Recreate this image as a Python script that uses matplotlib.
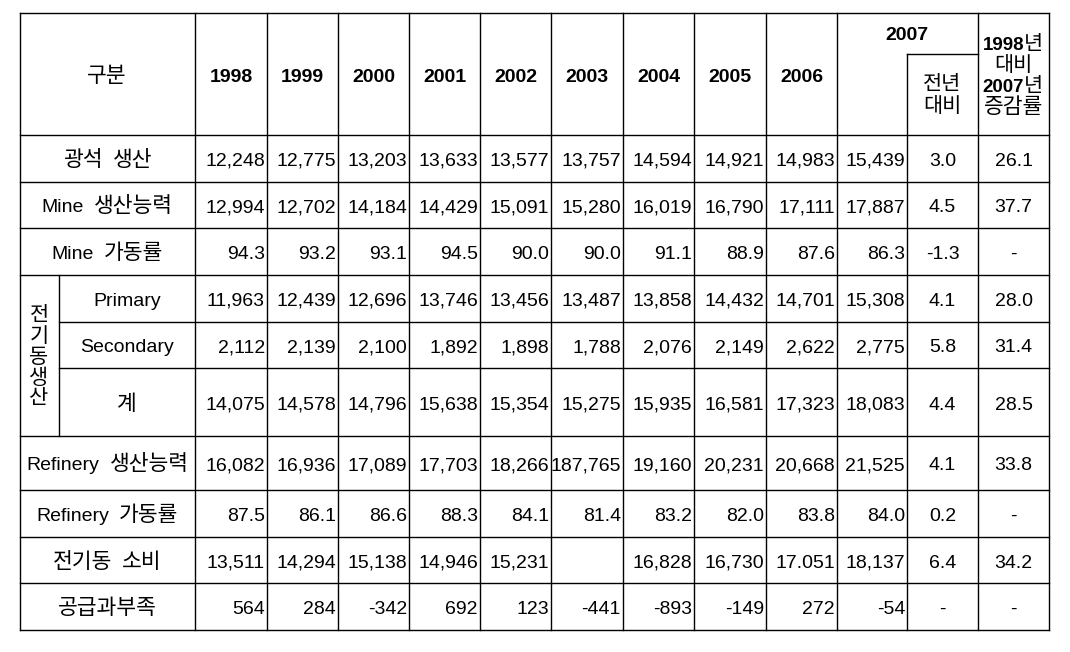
import re
import matplotlib
matplotlib.use("Agg")
import matplotlib.pyplot as plt

# ---------------- data ----------------
years = ["1998", "1999", "2000", "2001", "2002", "2003", "2004", "2005", "2006", "2007"]
row_labels = ["광석 생산", "Mine 생산능력", "Mine 가동률", "Primary", "Secondary", "계",
              "Refinery 생산능력", "Refinery 가동률", "전기동 소비", "공급과부족"]
group_label = "전기동생산"

ore_production = ["12,248", "12,775", "13,203", "13,633", "13,577", "13,757", "14,594", "14,921", "14,983", "15,439"]
mine_capacity = ["12,994", "12,702", "14,184", "14,429", "15,091", "15,280", "16,019", "16,790", "17,111", "17,887"]
mine_utilization = ["94.3", "93.2", "93.1", "94.5", "90.0", "90.0", "91.1", "88.9", "87.6", "86.3"]
primary = ["11,963", "12,439", "12,696", "13,746", "13,456", "13,487", "13,858", "14,432", "14,701", "15,308"]
secondary = ["2,112", "2,139", "2,100", "1,892", "1,898", "1,788", "2,076", "2,149", "2,622", "2,775"]
total = ["14,075", "14,578", "14,796", "15,638", "15,354", "15,275", "15,935", "16,581", "17,323", "18,083"]
refinery_capacity = ["16,082", "16,936", "17,089", "17,703", "18,266", "187,765", "19,160", "20,231", "20,668", "21,525"]
refinery_utilization = ["87.5", "86.1", "86.6", "88.3", "84.1", "81.4", "83.2", "82.0", "83.8", "84.0"]
consumption = ["13,511", "14,294", "15,138", "14,946", "15,231", "", "16,828", "16,730", "17.051", "18,137"]
supply_balance = ["564", "284", "-342", "692", "123", "-441", "-893", "-149", "272", "-54"]

yoy_change = ["3.0", "4.5", "-1.3", "4.1", "5.8", "4.4", "4.1", "0.2", "6.4", "-"]
change_98_07 = ["26.1", "37.7", "-", "28.0", "31.4", "28.5", "33.8", "-", "34.2", "-"]

rows = [ore_production, mine_capacity, mine_utilization, primary, secondary, total,
        refinery_capacity, refinery_utilization, consumption, supply_balance]

# ---------------- layout ----------------
FAM = ["Liberation Sans", "Noto Sans CJK KR"]
FS = 14       # latin / numbers
FSK = 15.5    # hangul in row labels
FSH = 15      # hangul in header
col_x = [20, 195, 267, 338, 409, 480, 551, 623, 694, 766, 837, 907, 978, 1049]
row_y = [13, 135, 182, 228, 275, 322, 368, 436, 490, 537, 583, 630]
sub_x = 59

fig = plt.figure(figsize=(10.7, 6.52), dpi=100)
ax = fig.add_axes([0, 0, 1, 1])
ax.set_xlim(0, 1070)
ax.set_ylim(652, 0)
ax.axis("off")
renderer = fig.canvas.get_renderer()

LW = 1.0
kw = dict(color="black", lw=LW, solid_capstyle="projecting")

# outer border
ax.plot([col_x[0], col_x[-1]], [row_y[0], row_y[0]], **kw)
ax.plot([col_x[0], col_x[-1]], [row_y[-1], row_y[-1]], **kw)
ax.plot([col_x[0], col_x[0]], [row_y[0], row_y[-1]], **kw)
ax.plot([col_x[-1], col_x[-1]], [row_y[0], row_y[-1]], **kw)
for x in col_x[1:-1]:
    if x == 907:
        ax.plot([x, x], [54, row_y[-1]], **kw)
    else:
        ax.plot([x, x], [row_y[0], row_y[-1]], **kw)
ax.plot([907, 978], [54, 54], **kw)
for y in row_y[1:-1]:
    if y in (322, 368):
        ax.plot([sub_x, col_x[-1]], [y, y], **kw)
    else:
        ax.plot([col_x[0], col_x[-1]], [y, y], **kw)
ax.plot([sub_x, sub_x], [275, 436], **kw)

HANGUL = re.compile(r"[\uac00-\ud7a3]")


def txt(x, y, s, ha="center", bold=False, size=FS):
    return ax.text(x, y, s, ha=ha, va="baseline", family=FAM, fontsize=size,
                   fontweight="bold" if bold else "normal", color="black")


def seg_line(cx, y, segs, gap=0):
    """segs: list of (text, size, bold); drawn left to right centered at cx."""
    objs = []
    widths = []
    for s, size, bold in segs:
        t = txt(0, y, s, ha="left", bold=bold, size=size)
        widths.append(t.get_window_extent(renderer).width)
        objs.append(t)
    total_w = sum(widths) + gap * (len(segs) - 1)
    x = cx - total_w / 2
    for t, w in zip(objs, widths):
        t.set_x(x)
        x += w + gap


def label(cx, y, s):
    segs = []
    for tok in s.split(" "):
        size = FSK if HANGUL.search(tok) else FS
        segs.append((tok, size, False))
    seg_line(cx, y, segs, gap=10)


OFF = 7.5
# header
label(107, 74 + OFF, "구분")
for k, yr in enumerate(years[:-1]):
    cx = (col_x[k + 1] + col_x[k + 2]) / 2
    txt(cx, 74 + OFF, yr, bold=True)
txt(907, 40, years[-1], bold=True)
txt(942, 90, "전년", size=FSH)
txt(942, 112, "대비", size=FSH)
seg_line(1013, 50, [("1998", 13.5, True), ("년", FSH, False)])
txt(1013, 71, "대비", size=FSH)
seg_line(1013, 92, [("2007", 13.5, True), ("년", FSH, False)])
txt(1013.5, 113, "증감률", size=15.5)

# group vertical label
gy0 = 314
for i, ch in enumerate(group_label):
    txt(39, gy0 + i * 20.7 + OFF, ch, size=FSH)

# rows
for r, (lab, vals) in enumerate(zip(row_labels, rows)):
    y0, y1 = row_y[r + 1], row_y[r + 2]
    cy = (y0 + y1) / 2 + OFF
    if lab in ("Primary", "Secondary", "계"):
        label((sub_x + col_x[1]) / 2, cy, lab)
    else:
        label((col_x[0] + col_x[1]) / 2, cy, lab)
    for k, v in enumerate(vals):
        txt(col_x[k + 2] - 2, cy, v, ha="right")
    txt(942.5, cy, yoy_change[r])
    txt(1013.5, cy, change_98_07[r])

fig.savefig("out.png", dpi=100)
